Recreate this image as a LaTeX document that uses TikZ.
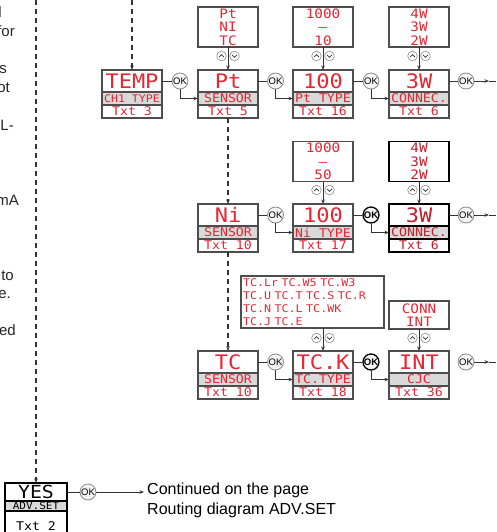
\documentclass[tikz,border=0pt]{standalone}
\usepackage{fontspec}
\setsansfont{Liberation Sans}
\newfontfamily\lcdfont[FakeStretch=1.1]{DejaVu Sans Mono}
\usetikzlibrary{positioning,arrows.meta}

\definecolor{lcdred}{HTML}{E62633}
\definecolor{lcddark}{HTML}{C41E2A}
\definecolor{rowgray}{HTML}{D9D9D9}
\definecolor{framegray}{HTML}{4D4D4D}
\definecolor{okgray}{HTML}{8C8C8C}

\tikzset{
  lcd/.style={draw=framegray, line width=1.2pt, outer sep=0pt, inner sep=0pt, minimum width=60pt, text=lcdred},
  lcdbig/.style={lcd, minimum height=22pt, font=\lcdfont\fontsize{20}{20}\selectfont},
  lcdmid/.style={lcd, fill=rowgray, minimum height=13pt, font=\lcdfont\fontsize{12}{12}\selectfont},
  lcdtxt/.style={lcdmid, fill=white},
  lcdsel/.style={draw=black, line width=1.8pt, text=lcddark},
  choice/.style={lcd, minimum height=40pt, align=center, font=\lcdfont\fontsize{13}{13.5}\selectfont},
  yesbox/.style={lcd, draw=black, text=black, minimum width=62pt},
  okc/.style={circle, draw=okgray, fill=gray!8, line width=0.8pt, inner sep=0pt, minimum size=16pt, font=\sffamily\fontsize{9.5}{9.5}\selectfont},
  okbold/.style={okc, draw=black, line width=1.3pt, font=\sffamily\bfseries\fontsize{9.5}{9.5}\selectfont},
  link/.style={draw=black!80, line width=0.9pt},
  flow/.style={link, -{Stealth[length=4.5pt,width=3.5pt]}},
  dashflow/.style={flow, dash pattern=on 5pt off 4pt, line width=1.2pt},
  frag/.style={anchor=base east, inner sep=0pt, font=\sffamily\fontsize{15}{15}\selectfont, text=black!85}
}

\begin{document}
\begin{tikzpicture}[x=1pt, y=-1pt]
  \useasboundingbox (0,0) rectangle (496,532);

  % text of the left column, cut at the page edge
  \node[frag] (f1) at (2,18) {l};
  \node[frag] (f2) at (15,37) {for};
  \node[frag] (f3) at (7,74) {s};
  \node[frag] (f4) at (10,93) {ot};
  \node[frag] (f5) at (14,130) {L-};
  \node[frag] (f6) at (19,205) {mA};
  \node[frag] (f7) at (14,280) {to};
  \node[frag] (f8) at (11,298) {e.};
  \node[frag] (f9) at (16,335) {ed};

  % first row
  \node[lcdbig] (temp) at (132,81) {TEMP};
  \node[lcdmid, below=0pt of temp, font=\lcdfont\fontsize{10.5}{10.5}\selectfont] (tempm) {CH1 TYPE};
  \node[lcdtxt, below=0pt of tempm] (tempt) {Txt 3};

  \node[lcdbig] (pt) at (228,81) {Pt};
  \node[lcdmid, below=0pt of pt] (ptm) {SENSOR};
  \node[lcdtxt, below=0pt of ptm] (ptt) {Txt 5};

  \node[lcdbig] (pttype) at (323,81) {100};
  \node[lcdmid, below=0pt of pttype] (pttypem) {Pt TYPE};
  \node[lcdtxt, below=0pt of pttypem] (pttypet) {Txt 16};

  \node[lcdbig] (ptcon) at (419,81) {3W};
  \node[lcdmid, below=0pt of ptcon] (ptconm) {CONNEC.};
  \node[lcdtxt, below=0pt of ptconm] (ptcont) {Txt 6};

  \node[choice] (chsens) at (228,27) {Pt\\NI\\TC};
  \node[choice] (chptrange) at (323,27) {1000\\–\\10};
  \node[choice] (chptcon) at (419,27) {4W\\3W\\2W};

  \node[okc] (ok1) at (180,81) {OK};
  \node[okc] (ok2) at (275.5,81) {OK};
  \node[okc] (ok3) at (371,81) {OK};
  \node[okc] (ok4) at (466,81) {OK};

  % second row
  \node[lcdbig] (ni) at (228,215) {Ni};
  \node[lcdmid, below=0pt of ni] (nim) {SENSOR};
  \node[lcdtxt, below=0pt of nim] (nit) {Txt 10};

  \node[lcdbig] (nitype) at (323,215) {100};
  \node[lcdmid, below=0pt of nitype] (nitypem) {Ni TYPE};
  \node[lcdtxt, below=0pt of nitypem] (nitypet) {Txt 17};

  \node[lcdbig, lcdsel] (nicon) at (419,215) {3W};
  \node[lcdmid, lcdsel, below=0pt of nicon] (niconm) {CONNEC.};
  \node[lcdtxt, lcdsel, below=0pt of niconm] (nicont) {Txt 6};

  \node[choice] (chnirange) at (323,161.5) {1000\\–\\50};
  \node[choice, lcdsel] (chnicon) at (419,161.5) {4W\\3W\\2W};

  \node[okc] (ok5) at (275.5,215) {OK};
  \node[okbold] (ok6) at (371,215) {OK};
  \node[okc] (ok7) at (466,215) {OK};

  % third row
  \node[lcdbig] (tc) at (228,362) {TC};
  \node[lcdmid, below=0pt of tc] (tcm) {SENSOR};
  \node[lcdtxt, below=0pt of tcm] (tct) {Txt 10};

  \node[lcdbig] (tctype) at (323,362) {TC.K};
  \node[lcdmid, below=0pt of tctype] (tctypem) {TC.TYPE};
  \node[lcdtxt, below=0pt of tctypem] (tctypet) {Txt 18};

  \node[lcdbig] (cjc) at (419,362) {INT};
  \node[lcdmid, below=0pt of cjc] (cjcm) {CJC};
  \node[lcdtxt, below=0pt of cjcm] (cjct) {Txt 36};

  \node[choice, minimum width=143pt, minimum height=52pt, text width=139pt, align=left,
        font=\lcdfont\fontsize{10.6}{13}\selectfont] (chtc) at (312.5,302)
        {TC.Lr TC.W5 TC.W3\\TC.U TC.T TC.S TC.R\\TC.N TC.L TC.WK\\TC.J TC.E};
  \node[choice, minimum height=28pt] (chcjc) at (419,315) {CONN\\INT};

  \node[okc] (ok8) at (275.5,362) {OK};
  \node[okbold] (ok9) at (371,362) {OK};
  \node[okc] (ok10) at (466,362) {OK};

  % bottom
  \node[yesbox, minimum height=18pt, font=\lcdfont\fontsize{18}{18}\selectfont] (yes) at (36,492) {YES};
  \node[yesbox, fill=rowgray, minimum height=10pt, font=\lcdfont\fontsize{10}{10}\selectfont, below=0pt of yes] (yesm) {ADV.SET};
  \node[yesbox, minimum height=30pt, font=\lcdfont\fontsize{12}{12}\selectfont, below=0pt of yesm] (yest) {Txt 2};
  \node[okc] (ok11) at (88,492) {OK};
  \node[anchor=north west, inner sep=0pt, align=left, font=\sffamily\fontsize{16}{20}\selectfont] (cont) at (147,483)
        {Continued on the page\\Routing diagram ADV.SET};

  \coordinate (leftin) at (36,0);
  \coordinate (topin) at (132,0);
  \coordinate (out1) at (489,81);
  \coordinate (edge1) at (496,81);
  \coordinate (out2) at (489,215);
  \coordinate (edge2) at (496,215);
  \coordinate (out3) at (489,362);
  \coordinate (edge3) at (496,362);
  \coordinate (contin) at (144,492);

  % dashed entries
  \draw[dashflow] (leftin) -- (yes);
  \draw[dashflow] (topin) -- (temp);
  \draw[dashflow] (ptt) -- (ni);
  \draw[dashflow] (nit) -- (tc);

  % choices into the menus
  \draw[flow] (chsens) -- (pt);
  \draw[flow] (chptrange) -- (pttype);
  \draw[flow] (chptcon) -- (ptcon);
  \draw[flow] (chnirange) -- (nitype);
  \draw[flow] (chnicon) -- (nicon);
  \draw[flow] (chtc.south -| tctype.north) -- (tctype.north);
  \draw[flow] (chcjc) -- (cjc);

  % OK steps
  \draw[link] (temp.east) -- (ok1);
  \draw[flow] (ok1.south) |- (ptm.west);
  \draw[link] (pt.east) -- (ok2);
  \draw[flow] (ok2.south) |- (pttypem.west);
  \draw[link] (pttype.east) -- (ok3);
  \draw[flow] (ok3.south) |- (ptconm.west);
  \draw[link] (ptcon.east) -- (ok4);
  \draw[flow] (ok4) -- (out1);
  \draw[link] (out1) -- (edge1);

  \draw[link] (ni.east) -- (ok5);
  \draw[flow] (ok5.south) |- (nitypem.west);
  \draw[link] (nitype.east) -- (ok6);
  \draw[flow] (ok6.south) |- (niconm.west);
  \draw[link] (nicon.east) -- (ok7);
  \draw[flow] (ok7) -- (out2);
  \draw[link] (out2) -- (edge2);

  \draw[link] (tc.east) -- (ok8);
  \draw[flow] (ok8.south) |- (tctypem.west);
  \draw[link] (tctype.east) -- (ok9);
  \draw[flow] (ok9.south) |- (cjcm.west);
  \draw[flow] (ok10) -- (out3);
  \draw[link] (out3) -- (edge3);

  \draw[link] (yes.east) -- (ok11);
  \draw[flow] (ok11) -- (contin);

  % up / down keys
  \foreach \ux/\uy in {228/56, 323/56, 419/56, 323/190, 419/190, 323/338, 419/338} {
    \draw[okgray, fill=white, line width=0.6pt] (\ux-6.5,\uy) circle (4.8pt) (\ux+6.5,\uy) circle (4.8pt);
    \draw[black!80, line width=0.7pt] (\ux-9,\uy+1.2) -- (\ux-6.5,\uy-1.3) -- (\ux-4,\uy+1.2)
      (\ux+4,\uy-1.2) -- (\ux+6.5,\uy+1.3) -- (\ux+9,\uy-1.2);
  }
\end{tikzpicture}
\end{document}
